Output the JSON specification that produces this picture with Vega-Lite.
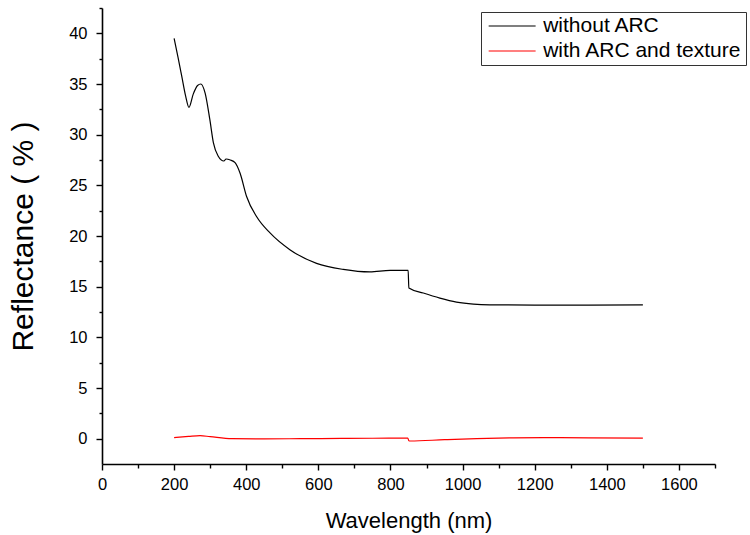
{
  "$schema": "https://vega.github.io/schema/vega-lite/v6.json",
  "width": 613,
  "height": 456,
  "autosize": {"type": "none"},
  "padding": {"left": 102, "top": 8, "right": 35, "bottom": 71},
  "background": "white",
  "config": {
    "view": {"stroke": null},
    "font": "Liberation Sans",
    "axis": {
      "domainColor": "black",
      "domainWidth": 1.6,
      "tickColor": "black",
      "tickWidth": 1.4,
      "labelColor": "black",
      "labelFont": "Liberation Sans",
      "labelFontSize": 16.5,
      "titleFont": "Liberation Sans",
      "titleFontWeight": "normal",
      "titleColor": "black",
      "grid": false
    }
  },
  "data": {
    "values": [
      {"series": "without ARC", "wavelength": 200, "R": 39.5},
      {"series": "without ARC", "wavelength": 211, "R": 37.6},
      {"series": "without ARC", "wavelength": 221, "R": 35.8},
      {"series": "without ARC", "wavelength": 232, "R": 33.8},
      {"series": "without ARC", "wavelength": 241, "R": 32.7},
      {"series": "without ARC", "wavelength": 253, "R": 34.0},
      {"series": "without ARC", "wavelength": 265, "R": 34.85},
      {"series": "without ARC", "wavelength": 274, "R": 35.0},
      {"series": "without ARC", "wavelength": 286, "R": 34.1},
      {"series": "without ARC", "wavelength": 299, "R": 31.5},
      {"series": "without ARC", "wavelength": 309, "R": 29.2},
      {"series": "without ARC", "wavelength": 322, "R": 27.9},
      {"series": "without ARC", "wavelength": 338, "R": 27.4},
      {"series": "without ARC", "wavelength": 344, "R": 27.6},
      {"series": "without ARC", "wavelength": 356, "R": 27.5},
      {"series": "without ARC", "wavelength": 369, "R": 27.25},
      {"series": "without ARC", "wavelength": 383, "R": 26.2},
      {"series": "without ARC", "wavelength": 401, "R": 23.9},
      {"series": "without ARC", "wavelength": 429, "R": 21.9},
      {"series": "without ARC", "wavelength": 466, "R": 20.3},
      {"series": "without ARC", "wavelength": 521, "R": 18.65},
      {"series": "without ARC", "wavelength": 595, "R": 17.3},
      {"series": "without ARC", "wavelength": 669, "R": 16.7},
      {"series": "without ARC", "wavelength": 743, "R": 16.45},
      {"series": "without ARC", "wavelength": 799, "R": 16.6},
      {"series": "without ARC", "wavelength": 849, "R": 16.6},
      {"series": "without ARC", "wavelength": 851, "R": 14.86},
      {"series": "without ARC", "wavelength": 891, "R": 14.37},
      {"series": "without ARC", "wavelength": 937, "R": 13.87},
      {"series": "without ARC", "wavelength": 983, "R": 13.48},
      {"series": "without ARC", "wavelength": 1030, "R": 13.28},
      {"series": "without ARC", "wavelength": 1076, "R": 13.21},
      {"series": "without ARC", "wavelength": 1200, "R": 13.18},
      {"series": "without ARC", "wavelength": 1350, "R": 13.18},
      {"series": "without ARC", "wavelength": 1500, "R": 13.2},
      {"series": "with ARC and texture", "wavelength": 200, "R": 0.1},
      {"series": "with ARC and texture", "wavelength": 240, "R": 0.22},
      {"series": "with ARC and texture", "wavelength": 272, "R": 0.3},
      {"series": "with ARC and texture", "wavelength": 300, "R": 0.2},
      {"series": "with ARC and texture", "wavelength": 360, "R": 0.0},
      {"series": "with ARC and texture", "wavelength": 450, "R": -0.03},
      {"series": "with ARC and texture", "wavelength": 550, "R": 0.0},
      {"series": "with ARC and texture", "wavelength": 665, "R": 0.02},
      {"series": "with ARC and texture", "wavelength": 750, "R": 0.04},
      {"series": "with ARC and texture", "wavelength": 848, "R": 0.05},
      {"series": "with ARC and texture", "wavelength": 851, "R": -0.2},
      {"series": "with ARC and texture", "wavelength": 855, "R": -0.23},
      {"series": "with ARC and texture", "wavelength": 950, "R": -0.1},
      {"series": "with ARC and texture", "wavelength": 1039, "R": 0.0},
      {"series": "with ARC and texture", "wavelength": 1130, "R": 0.07},
      {"series": "with ARC and texture", "wavelength": 1224, "R": 0.1},
      {"series": "with ARC and texture", "wavelength": 1350, "R": 0.08},
      {"series": "with ARC and texture", "wavelength": 1500, "R": 0.05}
    ]
  },
  "mark": {"type": "line", "strokeWidth": 1.2, "interpolate": "monotone"},
  "encoding": {
    "x": {
      "field": "wavelength",
      "type": "quantitative",
      "scale": {"domain": [0, 1700], "nice": false, "zero": false},
      "axis": {
        "title": "Wavelength (nm)",
        "titleFontSize": 22,
        "titlePadding": 18,
        "format": "d",
        "values": [0, 100, 200, 300, 400, 500, 600, 700, 800, 900, 1000, 1100, 1200, 1300, 1400, 1500, 1600, 1700],
        "labelExpr": "datum.value % 200 === 0 ? datum.label : ''",
        "tickSize": {"condition": {"test": "datum.value % 200 === 0", "value": 6}, "value": 4},
        "labelPadding": 6,
        "labelFlush": false,
        "labelOverlap": false
      }
    },
    "y": {
      "field": "R",
      "type": "quantitative",
      "scale": {"domain": [-2.5, 42.5], "nice": false, "zero": false},
      "axis": {
        "title": "Reflectance  (  %  )",
        "titleFontSize": 30,
        "titlePadding": 30,
        "format": "d",
        "values": [0, 2.5, 5, 7.5, 10, 12.5, 15, 17.5, 20, 22.5, 25, 27.5, 30, 32.5, 35, 37.5, 40, 42.5],
        "labelExpr": "datum.value % 5 === 0 ? datum.label : ''",
        "tickSize": {"condition": {"test": "datum.value % 5 === 0", "value": 6}, "value": 3},
        "labelPadding": 9,
        "labelFlush": false,
        "labelOverlap": false
      }
    },
    "color": {
      "field": "series",
      "type": "nominal",
      "scale": {"domain": ["without ARC", "with ARC and texture"], "range": ["black", "red"]},
      "legend": {
        "title": null,
        "orient": "none",
        "legendX": 379,
        "legendY": 4,
        "symbolType": "M-0.81,0H5.19",
        "symbolSize": 245,
        "symbolStrokeWidth": 1.2,
        "labelFontSize": 21,
        "labelFont": "Liberation Sans",
        "labelColor": "black",
        "labelOffset": 37.7,
        "labelLimit": 400,
        "strokeColor": "#333333",
        "fillColor": "white",
        "padding": 3.5,
        "rowPadding": 3
      }
    }
  }
}
